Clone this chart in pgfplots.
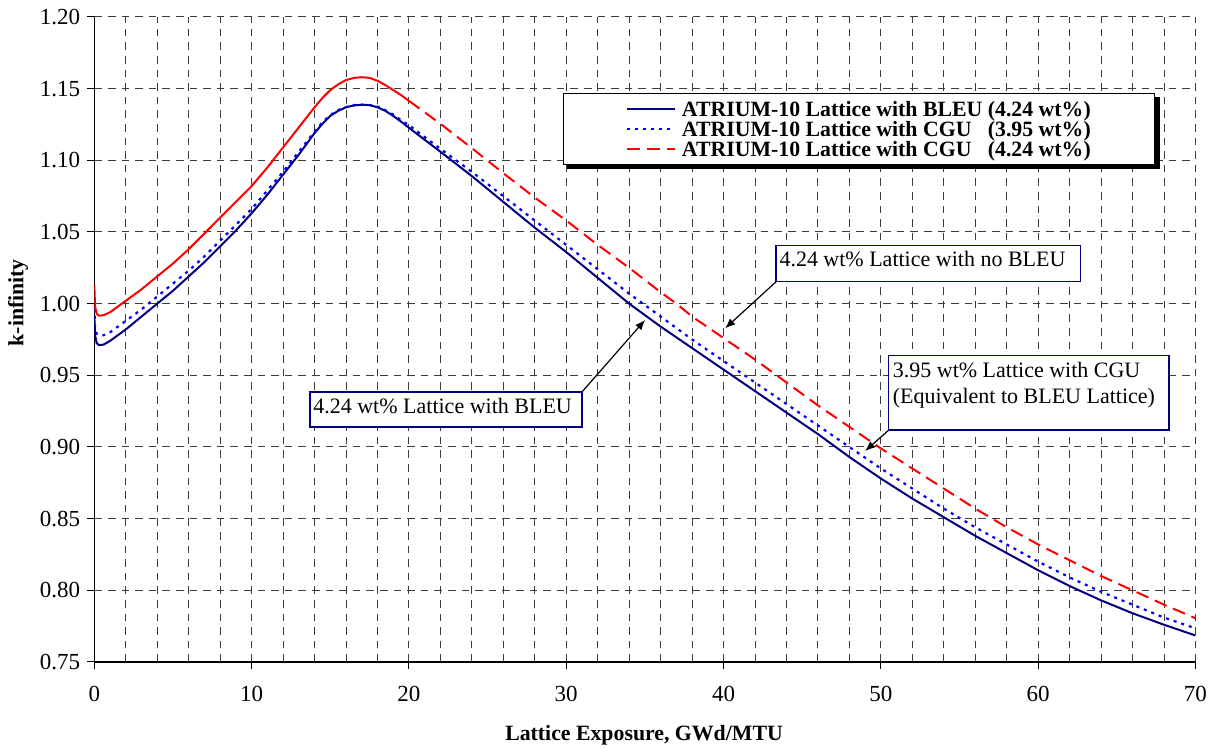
\documentclass[border=0pt]{standalone}
\usepackage{fontspec}
\setmainfont{Liberation Serif}
\usepackage{calc}
\usepackage{pgfplots}
\usepackage{pgfplotstable}
\pgfplotsset{compat=1.18}
\usetikzlibrary{arrows.meta}
\definecolor{navyb}{RGB}{0,0,128}
\definecolor{blueb}{RGB}{0,0,255}
\definecolor{redb}{RGB}{255,0,0}
\definecolor{gridc}{RGB}{60,60,60}

\pgfplotstableread{
x y
0 0.992
0.05 0.978
0.15 0.9725
0.3 0.971
0.6 0.9715
1 0.974
1.5 0.978
2 0.982
3 0.991
4 1.000
5 1.009
6 1.019
7 1.029
8 1.040
9 1.051
10 1.063
11 1.076
12 1.090
13 1.104
14 1.119
14.5 1.1255
15 1.131
15.5 1.1345
16 1.137
16.5 1.1383
17 1.1388
17.5 1.1385
18 1.137
18.5 1.1345
19 1.131
19.5 1.127
20 1.1227
22 1.106
24 1.089
26 1.071
28 1.053
30 1.036
32 1.018
34 1.000
36 0.984
38 0.969
40 0.954
42 0.939
44 0.924
46 0.909
48 0.893
50 0.878
52 0.864
54 0.851
56 0.838
58 0.826
60 0.814
62 0.803
64 0.793
66 0.784
68 0.776
70 0.7685
}\bleu

\pgfplotstableread{
x y
0 0.997
0.05 0.984
0.15 0.979
0.3 0.978
0.6 0.978
1 0.980
1.5 0.984
2 0.988
3 0.996
4 1.005
5 1.014
6 1.023
7 1.033
8 1.044
9 1.055
10 1.066
11 1.079
12 1.092
13 1.106
14 1.120
14.5 1.1265
15 1.1315
15.5 1.135
16 1.1372
16.5 1.1385
17 1.1388
17.5 1.1386
18 1.1375
18.5 1.135
19 1.132
19.5 1.128
20 1.1245
22 1.108
24 1.092
26 1.075
28 1.058
30 1.041
32 1.024
34 1.007
36 0.991
38 0.975
40 0.960
42 0.945
44 0.930
46 0.915
48 0.900
50 0.885
52 0.871
54 0.857
56 0.844
58 0.832
60 0.820
62 0.809
64 0.799
66 0.790
68 0.781
70 0.7735
}\cguA

\pgfplotstableread{
x y
0 1.013
0.05 0.998
0.15 0.993
0.3 0.9916
0.6 0.992
1 0.994
1.5 0.998
2 1.002
3 1.010
4 1.019
5 1.028
6 1.038
7 1.049
8 1.060
9 1.071
10 1.082
11 1.095
12 1.109
13 1.123
14 1.137
14.5 1.1435
15 1.149
15.5 1.153
16 1.156
16.5 1.1575
17 1.158
17.5 1.1575
18 1.1555
18.5 1.1525
19 1.149
19.5 1.1455
20 1.1415
21 1.1335
22 1.1255
23 1.117
24 1.1085
26 1.091
28 1.074
30 1.058
32 1.041
34 1.025
36 1.008
37 1.000
38 0.991
40 0.976
42 0.961
44 0.945
46 0.929
48 0.914
50 0.899
52 0.885
54 0.871
56 0.857
58 0.844
60 0.832
62 0.821
64 0.810
66 0.800
68 0.790
70 0.7805
}\cguB

\begin{document}
\begin{tikzpicture}
\useasboundingbox (-47.15pt,-43.5pt) rectangle (560.35pt,331pt);
\begin{axis}[
  scale only axis, width=550.6pt, height=322.5pt,
  xmin=0, xmax=70, ymin=0.75, ymax=1.20,
  xtick={0,10,20,30,40,50,60,70},
  ytick={0.75,0.80,0.85,0.90,0.95,1.00,1.05,1.10,1.15,1.20},
  minor x tick num=4,
  grid=both,
  major grid style={draw=gridc, line width=0.5pt, dash pattern=on 3.8pt off 3pt},
  minor grid style={draw=gridc, line width=0.5pt, dash pattern=on 3.8pt off 3pt},
  axis x line*=bottom, axis y line*=left,
  axis line style={black, line width=0.6pt, -},
  tick align=outside, major tick length=3.5pt, minor tick length=0pt,
  tick style={black, line width=0.5pt},
  /pgf/number format/assume math mode=true,
  ticklabel style={font=\fontsize{11.5}{13}\selectfont},
  xticklabel style={yshift=-5.2pt},
  yticklabel style={/pgf/number format/.cd, fixed, fixed zerofill, precision=2},
  xlabel={Lattice Exposure, GWd/MTU},
  ylabel={k-infinity},
  xlabel style={at={(axis description cs:0.4992,-0.121)}, anchor=base, font=\bfseries\fontsize{10.9}{12}\selectfont},
  ylabel style={at={(axis description cs:-0.0693,0.557)}, anchor=center, font=\bfseries\fontsize{10.9}{12}\selectfont},
  clip mode=individual,
  legend image code/.code={\path (0pt,0pt); \draw[#1] (0pt,0pt) -- (24pt,0pt); \path (26pt,0pt);},
  legend style={name=lgd, at={(axis cs:29.8,1.147)}, anchor=north west, draw=black, line width=0.6pt, fill=white,
    inner xsep=31pt, inner ysep=2.8pt, row sep=0pt,
    font=\bfseries\fontsize{10.9}{10}\selectfont,
    nodes={inner xsep=1pt, inner ysep=0pt, text height=8.5pt, text depth=1.5pt},
    cells={anchor=west}},
]
\addplot[navyb, line width=1pt] table[x=x,y=y] {\bleu};
\addlegendentry{ATRIUM-10 Lattice with BLEU (4.24 wt\%)}
\addplot[blueb, line width=1.1pt, dash pattern=on 1.5pt off 2.5pt] table[x=x,y=y] {\cguA};
\addlegendentry{\makebox[\widthof{ATRIUM-10 Lattice with BLEU}][l]{ATRIUM-10 Lattice with CGU} (3.95 wt\%)}
\addplot[redb, line width=1pt, forget plot, restrict x to domain=0:20] table[x=x,y=y] {\cguB};
\addplot[redb, line width=1pt, dash pattern=on 6.5pt off 3.5pt, restrict x to domain=20:70] table[x=x,y=y] {\cguB};
\addlegendentry{\makebox[\widthof{ATRIUM-10 Lattice with BLEU}][l]{ATRIUM-10 Lattice with CGU} (4.24 wt\%)}

% annotation 1
\draw[-{Latex[length=5pt,width=4pt]}, line width=0.6pt] (axis cs:31.0,0.9384) -- (axis cs:35.01,0.9886);
\draw[navyb, line width=0.6pt, fill=white] (axis cs:13.71,0.9384) rectangle (axis cs:31.0,0.914);
\node[anchor=base west, inner sep=0pt, font=\fontsize{11}{13}\selectfont] at ([xshift=1.5pt,yshift=-11pt]axis cs:13.71,0.9384) {4.24 wt\% Lattice with BLEU};
% annotation 2
\draw[-{Latex[length=5pt,width=4pt]}, line width=0.6pt] (axis cs:43.34,1.0153) -- (axis cs:40.10,0.9828);
\draw[navyb, line width=0.6pt, fill=white] (axis cs:43.34,1.0404) rectangle (axis cs:62.71,1.0153);
\node[anchor=base west, inner sep=0pt, font=\fontsize{11}{13}\selectfont] at ([xshift=1.5pt,yshift=-10.5pt]axis cs:43.34,1.0404) {4.24 wt\% Lattice with no BLEU};
% annotation 3
\draw[-{Latex[length=5pt,width=4pt]}, line width=0.6pt] (axis cs:50.51,0.9119) -- (axis cs:49.0,0.8972);
\draw[navyb, line width=0.6pt, fill=white] (axis cs:50.51,0.9637) rectangle (axis cs:68.32,0.9119);
\node[anchor=base west, inner sep=0pt, font=\fontsize{11}{13}\selectfont] at ([xshift=1.8pt,yshift=-10.8pt]axis cs:50.51,0.9637) {3.95 wt\% Lattice with CGU};
\node[anchor=base west, inner sep=0pt, font=\fontsize{11}{13}\selectfont] at ([xshift=1.8pt,yshift=-23.8pt]axis cs:50.51,0.9637) {(Equivalent to BLEU Lattice)};
\end{axis}
% legend shadow (right and bottom bars, outside the legend frame)
\fill[black] ([yshift=-2pt]lgd.north east) rectangle ([xshift=2.2pt,yshift=-2pt]lgd.south east);
\fill[black] ([xshift=2.2pt]lgd.south west) rectangle ([xshift=2.2pt,yshift=-2pt]lgd.south east);
\end{tikzpicture}
\end{document}
